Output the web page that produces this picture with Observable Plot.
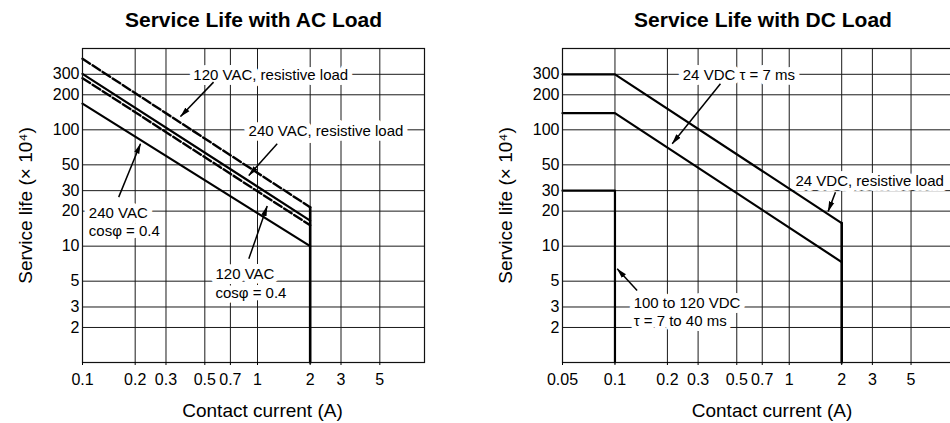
<!DOCTYPE html>
<html><head><meta charset="utf-8">
<script src="https://cdn.jsdelivr.net/npm/d3@7"></script>
<script src="https://cdn.jsdelivr.net/npm/@observablehq/plot@0.6"></script>
<style>
html,body{margin:0;padding:0;background:#fff;overflow:hidden;}
#wrap{position:relative;width:950px;height:423px;overflow:hidden;background:#fff;}
#left{position:absolute;left:0;top:0;width:475px;}
#right{position:absolute;left:475px;top:0;width:500px;}
#wrap svg{max-width:none !important;}
</style></head><body><div id="wrap"><div id="left"></div><div id="right"></div></div>
<script>
// ---------- shared ----------
const lifeTicks = [2, 3, 5, 10, 20, 30, 50, 100, 200, 300];
const lifeDomain = [1, 500];
const yLabel = "Service life (× 10⁴)";
const xLabel = "Contact current (A)";

// ---------- AC chart ----------
const acTitle = "Service Life with AC Load";
const acTicksX = [0.1, 0.2, 0.3, 0.5, 0.7, 1, 2, 3, 5];
const acDomainX = [0.1, 9];
const acCurrent = [0.1, 2];
const ac120Res = [408, 21.6];   // dashed
const ac240Res = [303, 16.6];   // solid
const ac120Cos = [278, 15.1];   // dashed
const ac240Cos = [168, 10];     // solid
const acCutCurrent = [2, 2];
const acCutLife = [21.6, 1];
const acNoteText = ["120 VAC, resistive load", "240 VAC, resistive load", "240 VAC\ncosφ = 0.4", "120 VAC\ncosφ = 0.4"];
const acNoteX = [0.43, 0.889, 0.1087, 0.575];
const acNoteY = [300, 100, 16.4, 4.85];
const acArrowFromX = [0.561, 1.296, 0.161, 0.892];
const acArrowFromY = [257, 75.9, 26.4, 7.79];
const acArrowToX = [0.363, 0.892, 0.2145, 1.136];
const acArrowToY = [130, 40.5, 75.9, 22.1];

// ---------- DC chart ----------
const dcTitle = "Service Life with DC Load";
const dcTicksX = [0.05, 0.1, 0.2, 0.3, 0.5, 0.7, 1, 2, 3, 5];
const dcDomainX = [0.05, 10];
const dcCurrent = [0.05, 0.1, 2];
const dc24Res = [300, 300, 15.8];
const dc24Ind = [139, 139, 7.3];
const dc100Current = [0.05, 0.1, 0.1];
const dc100Life = [30, 30, 1];
const dcCutCurrent = [2, 2];
const dcCutLife = [15.8, 1];
const dcNoteText = ["24 VDC τ = 7 ms", "24 VDC, resistive load", "100 to 120 VDC\nτ = 7 to 40 ms"];
const dcNoteX = [0.245, 1.086, 0.128];
const dcNoteY = [300, 36.7, 2.75];
const dcArrowFromX = [0.403, 1.842, 0.134];
const dcArrowFromY = [249, 29.1, 4.16];
const dcArrowToX = [0.213, 1.672, 0.103];
const dcArrowToY = [75.9, 19.9, 6.39];

const pts = (xs, ys) => xs.map((x, i) => ({x, y: ys[i]}));
const zipNotes = (t, x, y) => t.map((s, i) => ({text: s, x: x[i], y: y[i]}));
const zipArrows = (x1, y1, x2, y2) => x1.map((v, i) => ({x1: v, y1: y1[i], x2: x2[i], y2: y2[i]}));

// filled triangular arrowhead
function filledArrow(color) {
  return d3.create("svg:marker")
    .attr("viewBox", "-5 -5 10 10")
    .attr("markerWidth", 7)
    .attr("markerHeight", 7)
    .attr("refX", 4.5)
    .attr("orient", "auto")
    .attr("fill", color)
    .attr("stroke", "none")
    .call(m => m.append("path").attr("d", "M-5,-2.6L5,0L-5,2.6Z"))
    .node();
}

function chart({width, marginLeft, marginRight, xDomain, xTicks, title, solid, dashed, cut, notes, arrows}) {
  const gridStyle = {stroke: "#1a1a1a", strokeOpacity: 1, strokeWidth: 1};
  return Plot.plot({
    width, height: 423, marginLeft, marginRight, marginTop: 48, marginBottom: 61,
    x: {type: "log", domain: xDomain},
    y: {type: "log", domain: lifeDomain, axis: null},
    style: {fontFamily: "'Liberation Sans', Arial, sans-serif", fontSize: "16px", color: "black", background: "white"},
    marks: [
      Plot.gridX(xTicks, gridStyle),
      Plot.gridY(lifeTicks, gridStyle),
      Plot.text(notes, {x: "x", y: "y", text: "text", textAnchor: "start", lineAnchor: "middle", lineHeight: 1.22,
        fontSize: 15, fill: "black", stroke: "white", strokeWidth: 10}),
      ...solid.map(d => Plot.line(d, {x: "x", y: "y", stroke: "black", strokeWidth: 2.2})),
      ...dashed.map(d => Plot.line(d, {x: "x", y: "y", stroke: "black", strokeWidth: 2.4, strokeDasharray: "9,3"})),
      Plot.line(cut, {x: "x", y: "y", stroke: "black", strokeWidth: 2.6}),
      Plot.frame({stroke: "#111", strokeWidth: 1.2}),
      Plot.link(arrows, {x1: "x1", y1: "y1", x2: "x2", y2: "y2", stroke: "black", strokeWidth: 1.5, markerEnd: filledArrow}),
      Plot.axisX(xTicks, {tickSize: 3, tickFormat: () => "", label: null}),
      Plot.text(xTicks, {x: d => d, text: d => String(d), frameAnchor: "bottom", lineAnchor: "top", dy: 11, fontSize: 16}),
      Plot.text(lifeTicks, {y: d => d, text: d => String(d), frameAnchor: "left", textAnchor: "end", lineAnchor: "middle", dx: -3, fontSize: 16}),
      Plot.text([title], {text: d => d, frameAnchor: "top", dy: -28, lineAnchor: "middle", fontWeight: "bold", fontSize: 21}),
      Plot.text([xLabel], {text: d => d, frameAnchor: "bottom", dy: 48, dx: 9, lineAnchor: "middle", fontSize: 19}),
      Plot.text([yLabel], {text: d => d, frameAnchor: "left", dx: -57, rotate: -90, textAnchor: "middle", lineAnchor: "middle", fontSize: 19})
    ]
  });
}

document.getElementById("left").append(chart({
  width: 475, marginLeft: 82, marginRight: 51,
  xDomain: acDomainX, xTicks: acTicksX, title: acTitle,
  solid: [pts(acCurrent, ac240Res), pts(acCurrent, ac240Cos)],
  dashed: [pts(acCurrent, ac120Res), pts(acCurrent, ac120Cos)],
  cut: pts(acCutCurrent, acCutLife),
  notes: zipNotes(acNoteText, acNoteX, acNoteY),
  arrows: zipArrows(acArrowFromX, acArrowFromY, acArrowToX, acArrowToY)
}));

document.getElementById("right").append(chart({
  width: 500, marginLeft: 87, marginRight: 12,
  xDomain: dcDomainX, xTicks: dcTicksX, title: dcTitle,
  solid: [pts(dcCurrent, dc24Res), pts(dcCurrent, dc24Ind), pts(dc100Current, dc100Life)],
  dashed: [],
  cut: pts(dcCutCurrent, dcCutLife),
  notes: zipNotes(dcNoteText, dcNoteX, dcNoteY),
  arrows: zipArrows(dcArrowFromX, dcArrowFromY, dcArrowToX, dcArrowToY)
}));
</script>
</body></html>
